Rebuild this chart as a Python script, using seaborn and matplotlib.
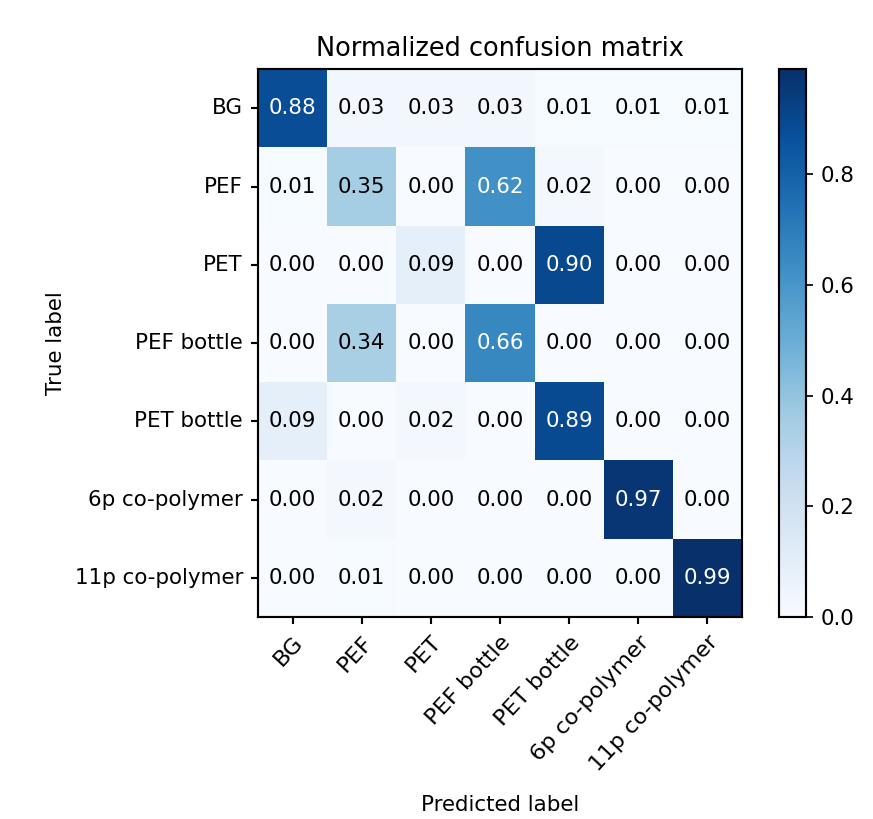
import matplotlib
matplotlib.use("Agg")
import matplotlib.pyplot as plt
import seaborn as sns
import numpy as np
import pandas as pd

classes = ["BG", "PEF", "PET", "PEF bottle", "PET bottle",
           "6p co-polymer", "11p co-polymer"]

row_bg = [0.88, 0.03, 0.03, 0.03, 0.01, 0.01, 0.01]
row_pef = [0.01, 0.35, 0.00, 0.62, 0.02, 0.00, 0.00]
row_pet = [0.00, 0.00, 0.09, 0.00, 0.90, 0.00, 0.00]
row_pef_bottle = [0.00, 0.34, 0.00, 0.66, 0.00, 0.00, 0.00]
row_pet_bottle = [0.09, 0.00, 0.02, 0.00, 0.89, 0.00, 0.00]
row_6p = [0.00, 0.02, 0.00, 0.00, 0.00, 0.97, 0.00]
row_11p = [0.00, 0.01, 0.00, 0.00, 0.00, 0.00, 0.99]

cm = pd.DataFrame([row_bg, row_pef, row_pet, row_pef_bottle,
                   row_pet_bottle, row_6p, row_11p],
                  index=classes, columns=classes)

dpi = 154
fig = plt.figure(figsize=(873 / dpi, 819 / dpi), dpi=dpi)
ax = fig.add_axes([0.2955, 0.2466, 0.5544, 0.669])
cax = fig.add_axes([0.8923, 0.2466, 0.031, 0.669])

sns.heatmap(cm, ax=ax, cbar_ax=cax, cmap="Blues", vmin=0, vmax=cm.values.max(),
            annot=True, fmt=".2f", annot_kws={"fontsize": 10})

# white text on dark cells, black otherwise
thresh = cm.values.max() / 2.0
flat = cm.values.flatten()
for txt, v in zip(ax.texts, flat):
    txt.set_color("white" if v > thresh else "black")

for spine in ax.spines.values():
    spine.set_visible(True)
    spine.set_linewidth(1.0)
    spine.set_color("black")

cb = ax.collections[0].colorbar
cb.outline.set_linewidth(1.0)
cb.outline.set_edgecolor("black")
cb.set_ticks([0.0, 0.2, 0.4, 0.6, 0.8])
cb.ax.tick_params(labelsize=10)

ax.set_xticklabels(classes, rotation=47, ha="right", rotation_mode="anchor", fontsize=10.5)
ax.set_yticklabels(classes, rotation=0, va="center", fontsize=10)
ax.tick_params(axis="both", length=3.5, width=1.0, color="black")

ax.set_title("Normalized confusion matrix", fontsize=12)
ax.set_ylabel("True label", fontsize=10)
ax.set_xlabel("Predicted label", fontsize=10, labelpad=9)

fig.savefig("out.png", dpi=dpi)
